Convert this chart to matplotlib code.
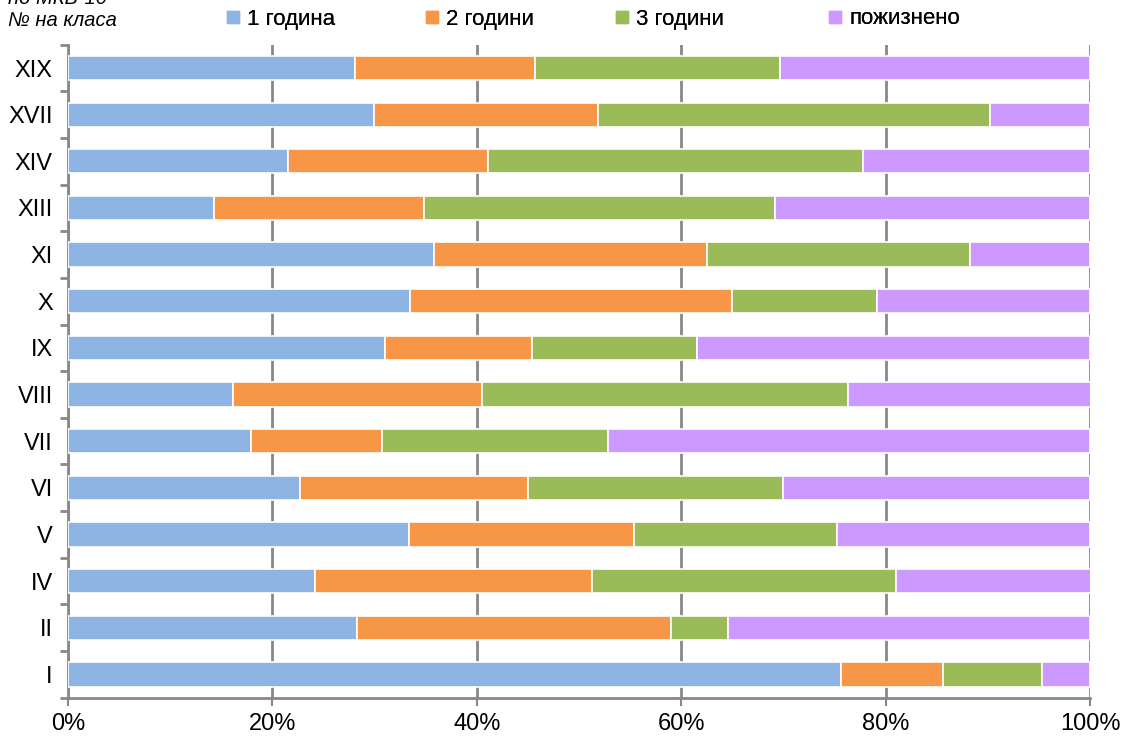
import matplotlib
matplotlib.use("Agg")
import matplotlib.pyplot as plt
import numpy as np
from matplotlib.lines import Line2D

categories = ["XIX", "XVII", "XIV", "XIII", "XI", "X", "IX", "VIII", "VII", "VI", "V", "IV", "II", "I"]
one_year = [28.1, 29.9, 21.5, 14.3, 35.8, 33.5, 31.0, 16.1, 17.9, 22.7, 33.4, 24.2, 28.3, 75.6]
two_years = [17.6, 22.0, 19.6, 20.5, 26.7, 31.5, 14.4, 24.4, 12.8, 22.3, 22.0, 27.1, 30.7, 10.0]
three_years = [24.0, 38.3, 36.7, 34.4, 25.8, 14.2, 16.1, 35.8, 22.1, 25.0, 19.8, 29.7, 5.6, 9.7]
lifelong = [30.3, 9.8, 22.2, 30.8, 11.7, 20.8, 38.5, 23.8, 47.2, 30.0, 24.8, 19.1, 35.4, 4.7]
series_names = ["1 година", "2 години", "3 години", "пожизнено"]
colors = ["#8EB4E3", "#F79646", "#9BBB59", "#CC99FF"]
xticks = [0, 20, 40, 60, 80, 100]
xticklabels = ["0%", "20%", "40%", "60%", "80%", "100%"]

FONT = ["Liberation Sans Narrow", "Liberation Sans", "DejaVu Sans"]
plt.rcParams["font.family"] = FONT
FS = 16

fig = plt.figure(figsize=(11.21, 7.42), dpi=100)
ax = fig.add_axes([68/1121, 1-697.7/742, (1090-68)/1121, (697.7-44.7)/742])

grey = "#888888"
n = len(categories)
ypos = np.arange(n)
data = [one_year, two_years, three_years, lifelong]
left = np.zeros(n)
for vals, c, name in zip(data, colors, series_names):
    v = np.array(vals)
    ax.barh(ypos, v, left=left, height=0.52, color=c, edgecolor="white",
            linewidth=1.2, label=name, zorder=3)
    left += v

ax.set_xlim(0, 100)
ax.set_ylim(n - 0.5, -0.5)
ax.set_xticks(xticks)
ax.set_xticklabels(xticklabels, fontsize=FS + 1)
ax.set_yticks(ypos)
ax.set_yticklabels(categories, fontsize=FS + 1)
ax.set_yticks(np.arange(n + 1) - 0.5, minor=True)
ax.tick_params(axis="y", which="major", length=0, pad=11)
ax.tick_params(axis="y", which="minor", length=6, width=2, color=grey, direction="out")
ax.tick_params(axis="x", which="major", length=6, width=1.5, color=grey, direction="out", pad=5)
ax.grid(axis="x", color=grey, linewidth=2, zorder=0)
ax.set_axisbelow(True)
for s in ["top", "right"]:
    ax.spines[s].set_visible(False)
for s in ["left", "bottom"]:
    ax.spines[s].set_color(grey)
    ax.spines[s].set_linewidth(2)

legend_x = [226, 425, 615, 828]
for name, c, lx in zip(series_names, colors, legend_x):
    h = Line2D([0], [0], marker="s", linestyle="none", markersize=9,
               markerfacecolor=c, markeredgecolor=c)
    leg = fig.legend([h], [name], loc="center left", bbox_to_anchor=(lx/1121, 1-19/742),
                     frameon=False, fontsize=FS, handlelength=0.6, handletextpad=0.35,
                     borderaxespad=0, borderpad=0)
    fig.add_artist(leg)

fig.text(8/1121, 1-21/742, "№ на класа", fontsize=14.5, style="italic", ha="left", va="center")
fig.text(8/1121, 1-(-1)/742, "по МКБ-10", fontsize=14.5, style="italic", ha="left", va="center")

fig.savefig("out.png", dpi=100)
